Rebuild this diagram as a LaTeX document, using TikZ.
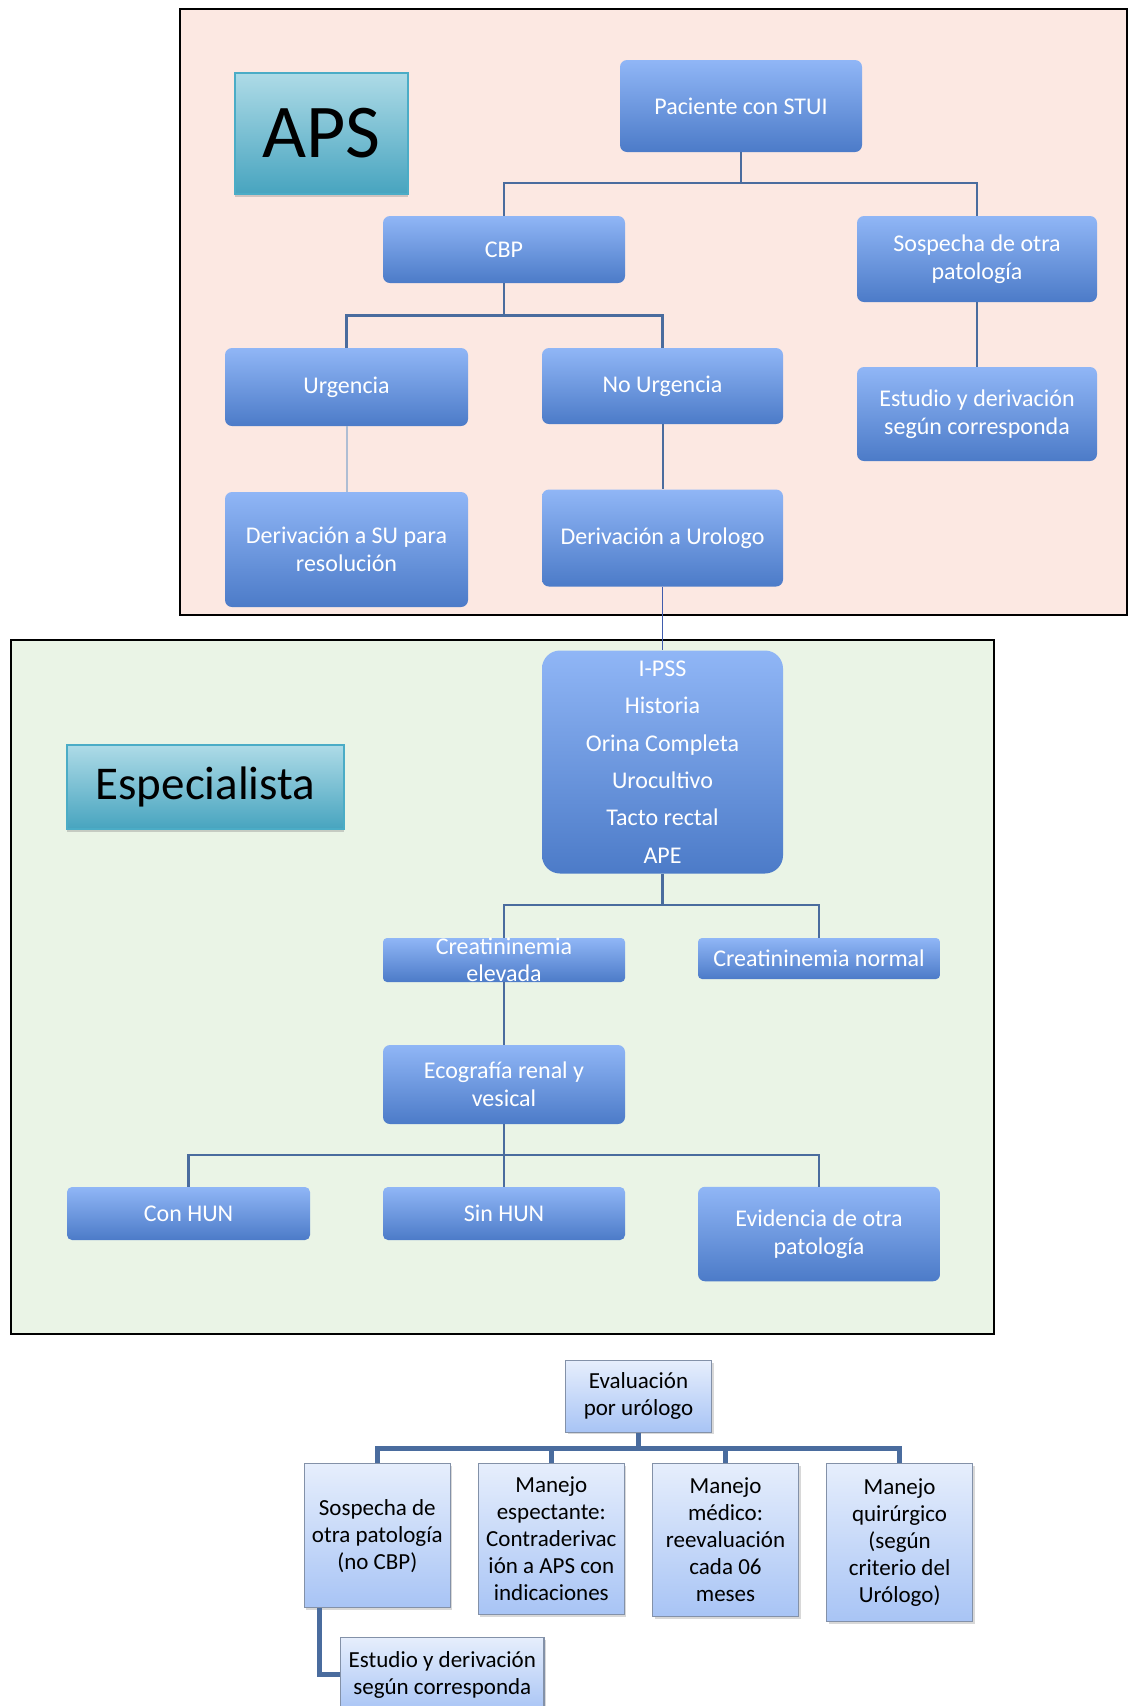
\documentclass[tikz,border=0pt]{standalone}
\usepackage{fontspec}
\setmainfont{Carlito}
\usetikzlibrary{shadows}

\definecolor{boxtop}{HTML}{90B6F6}
\definecolor{boxbot}{HTML}{4C7BC8}
\definecolor{tagtop}{HTML}{AEDBE7}
\definecolor{tagbot}{HTML}{47A4BF}
\definecolor{tagline}{HTML}{4BACC6}
\definecolor{paletop}{HTML}{E6EEFC}
\definecolor{palebot}{HTML}{A8C4F5}
\definecolor{paleline}{HTML}{8391A8}
\definecolor{linkcol}{HTML}{4A6C9E}
\definecolor{pinkbg}{HTML}{FCE8E2}
\definecolor{greenbg}{HTML}{EAF4E6}

\tikzset{
  bluebox/.style={rounded corners=7pt, top color=boxtop, bottom color=boxbot,
    text=white, align=center, inner sep=0pt,
    font=\fontsize{24}{28}\selectfont},
  tagbox/.style={top color=tagtop, bottom color=tagbot, draw=tagline,
    line width=2pt, inner sep=0pt,
    drop shadow={shadow xshift=0pt, shadow yshift=-3pt, opacity=0.35}},
  palebox/.style={top color=paletop, bottom color=palebot, draw=paleline,
    line width=1.2pt, align=center, inner sep=0pt, anchor=north,
    minimum width=146pt, font=\fontsize{23}{27}\selectfont,
    drop shadow={shadow xshift=2pt, shadow yshift=-2pt, opacity=0.3}},
  link/.style={draw=linkcol, line width=2.5pt},
  fatlink/.style={draw=linkcol, line width=5pt},
}

\begin{document}
\begin{tikzpicture}[x=1pt, y=-1pt]
  \useasboundingbox (0,0) rectangle (1128,1706);
  \fill[white] (0,0) rectangle (1128,1706);

  % the two frames
  \draw[line width=2pt, fill=pinkbg] (179.5,8.7) rectangle (1127,614.6);
  \draw[line width=2pt, fill=greenbg] (10.9,639.6) rectangle (994,1333.6);

  \node[tagbox, minimum width=173pt, minimum height=121pt,
    font=\fontsize{76}{84}\selectfont] (aps) at (321.5,133.5) {APS};
  \node[tagbox, minimum width=277pt, minimum height=84pt,
    font=\fontsize{47}{52}\selectfont] (espec) at (205.5,787) {Especialista};

  % APS
  \node[bluebox, minimum width=242pt, minimum height=92pt] (paciente) at (741,106) {Paciente con STUI};
  \node[bluebox, minimum width=242pt, minimum height=67pt] (cbp) at (504,249.5) {CBP};
  \node[bluebox, minimum width=240pt, minimum height=86pt] (sospecha) at (977,259) {Sospecha de otra\\patología};
  \node[bluebox, minimum width=243pt, minimum height=78pt] (urgencia) at (346.5,387) {Urgencia};
  \node[bluebox, minimum width=241pt, minimum height=76pt] (nourgencia) at (662.5,386) {No Urgencia};
  \node[bluebox, minimum width=240pt, minimum height=94pt] (estudio) at (977,414) {Estudio y derivación\\según corresponda};
  \node[bluebox, minimum width=243pt, minimum height=115pt] (derivsu) at (346.5,549.5) {Derivación a SU para\\resolución};
  \node[bluebox, minimum width=241pt, minimum height=97pt] (derivuro) at (662.5,538) {Derivación a Urologo};

  % Especialista
  \node[bluebox, rounded corners=18pt, minimum width=241pt, minimum height=223pt,
    font=\fontsize{24}{37.4}\selectfont] (ipss) at (662.5,762)
    {I-PSS\\Historia\\Orina Completa\\Urocultivo\\Tacto rectal\\APE};
  \node[bluebox, rounded corners=4pt, minimum width=242pt, minimum height=44pt,
    font=\fontsize{24}{27}\selectfont] (creaelev) at (504,960) {Creatininemia\\elevada};
  \node[bluebox, rounded corners=4pt, minimum width=242pt, minimum height=41pt] (creanorm) at (819,958.5) {Creatininemia normal};
  \node[bluebox, minimum width=242pt, minimum height=79pt] (ecografia) at (504,1084.5) {Ecografía renal y\\vesical};
  \node[bluebox, rounded corners=5pt, minimum width=243pt, minimum height=53pt] (conhun) at (188.5,1213.5) {Con HUN};
  \node[bluebox, rounded corners=5pt, minimum width=242pt, minimum height=53pt] (sinhun) at (504,1213.5) {Sin HUN};
  \node[bluebox, minimum width=242pt, minimum height=94.5pt] (evidencia) at (819,1234) {Evidencia de otra\\patología};

  % urologo
  \node[palebox, minimum width=146pt, minimum height=71.5pt] (evaluacion) at (638.5,1360) {Evaluación\\por urólogo};
  \node[palebox, minimum height=144pt] (sospecha2) at (377.3,1463) {Sospecha de\\otra patología\\(no CBP)};
  \node[palebox, minimum height=151pt] (espectante) at (551.3,1463) {Manejo\\espectante:\\Contraderivac\\ión a APS con\\indicaciones};
  \node[palebox, minimum height=153pt] (medico) at (725.5,1463) {Manejo\\médico:\\reevaluación\\cada 06\\meses};
  \node[palebox, minimum height=158pt] (quirurgico) at (899.6,1463) {Manejo\\quirúrgico\\(según\\criterio del\\Urólogo)};
  \node[palebox, minimum width=203.5pt, minimum height=74pt] (estudio2) at (442.3,1637) {Estudio y derivación\\según corresponda};

  % connectors
  \coordinate (bus1) at (741,183);
  \coordinate (bus2) at (504,315.5);
  \coordinate (bus3) at (662.5,905);
  \coordinate (bus4) at (504,1155);
  \coordinate (bus5) at (638.5,1448);

  \draw[link] (paciente) -- (bus1);
  \draw[link] (cbp.north) |- (bus1) -| (sospecha.north);
  \draw[link] (cbp) -- (bus2);
  \draw[link] (urgencia.north) |- (bus2) -| (nourgencia.north);
  \draw[link] (sospecha) -- (estudio);
  \draw[draw=linkcol!45, line width=2pt] (urgencia) -- (derivsu);
  \draw[link, line width=2pt] (nourgencia) -- (derivuro);
  \draw[link, line width=1.6pt, draw=linkcol!85!blue] (derivuro) -- (ipss);

  \draw[link] (ipss) -- (bus3);
  \draw[link] (creaelev.north) |- (bus3) -| (creanorm.north);
  \draw[link] (creaelev) -- (ecografia);
  \draw[link] (ecografia) -- (bus4) -- (sinhun);
  \draw[link] (conhun.north) |- (bus4) -| (evidencia.north);

  \draw[fatlink] (evaluacion) -- (bus5);
  \draw[fatlink] (sospecha2.north) |- (bus5) -| (quirurgico.north);
  \draw[fatlink] (espectante.north) -- (espectante.north |- bus5);
  \draw[fatlink] (medico.north) -- (medico.north |- bus5);
  \draw[fatlink] ([xshift=16pt]sospecha2.south west) |- (estudio2.west);
\end{tikzpicture}
\end{document}
